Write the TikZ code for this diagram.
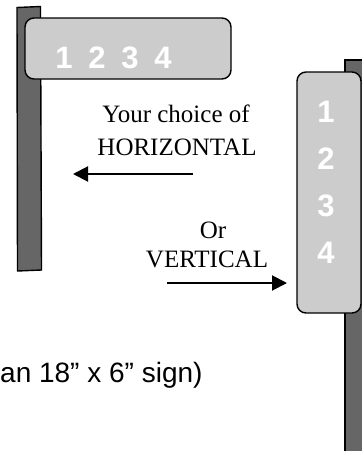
\documentclass[tikz,border=0pt]{standalone}
\usepackage{fontspec}
\setmainfont{Liberation Serif}
\setsansfont{Liberation Sans}
\usetikzlibrary{arrows.meta}

\definecolor{postgray}{HTML}{666666}
\definecolor{boardgray}{HTML}{CCCCCC}

\tikzset{
  post/.style={draw=black, line width=1.4pt, fill=postgray},
  board/.style={draw=black, line width=1.4pt, fill=boardgray, rounded corners=9pt},
  digit/.style={text=white, inner sep=0pt, font=\sffamily\bfseries\fontsize{31}{31}\selectfont},
  remark/.style={anchor=base, inner sep=0pt, font=\fontsize{25}{30}\selectfont},
  pointer/.style={line width=2pt, -{Triangle[length=15pt,width=15pt]}},
}

\begin{document}
\begin{tikzpicture}[x=1pt,y=-1pt]
        \useasboundingbox (0,0) rectangle (362,451);
        %
        \draw [post] (17,7.5) -- (40.5,6.5) -- (41.5,270) -- (17.5,271) -- cycle;
        \draw [board] (25,18) rectangle (231,79);
        \foreach \n in {1,...,4}
          \node [digit] (h\n) at ({31+33*\n},57.5) {\n};
        %
        \draw [post] (345,60) rectangle (363,453);
        \draw [board] (297,72) rectangle (361,313);
        \foreach \n in {1,...,4}
          \node [digit] (v\n) at (326,{65+47*\n}) {\n};
        %
        \node [remark] (choice) at (176,122) {Your choice of};
        \node [remark] (horizontal) at (177,155) {HORIZONTAL};
        \node [remark] (or) at (213,238) {Or};
        \node [remark] (vertical) at (207,267) {VERTICAL};
        %
        \coordinate (hstart) at (193,174);
        \coordinate (hend) at (73,174);
        \coordinate (vstart) at (167,283);
        \coordinate (vend) at (287,283);
        \draw [pointer] (hstart) -- (hend);
        \draw [pointer] (vstart) -- (vend);
        %
        \node [anchor=base west, inner sep=0pt, font=\sffamily\fontsize{28}{28}\selectfont]
          (size) at (0,382) {an 18” x 6” sign)};
      \end{tikzpicture}
\end{document}
